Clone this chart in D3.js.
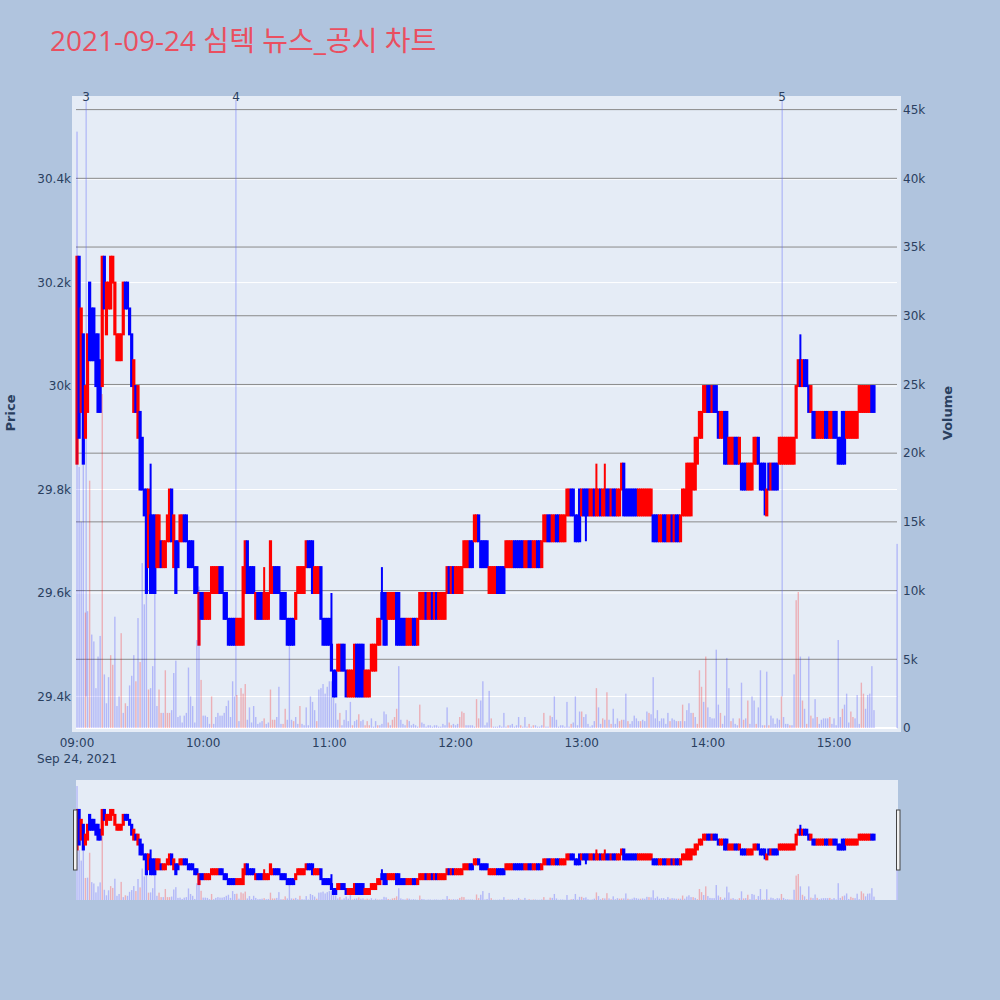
<!DOCTYPE html>
<html><head><meta charset="utf-8">
<script src="https://cdn.jsdelivr.net/npm/d3@7"></script>
<style>body{margin:0;background:#B0C4DE;} svg{display:block;font-family:"DejaVu Sans","Noto Sans CJK KR",sans-serif;}</style>
</head><body><svg id="chart" width="1000" height="1000"></svg>
<script>
const titleText = "2021-09-24 심텍 뉴스_공시 차트";
const sessionStart = "2021-09-24 09:00:00";
// one candle per minute from 09:00
const opens = [
29850,30250,29950,30100,29900,29950,30200,30150,30150,30100,
30100,30050,30000,30250,30100,30150,30150,30200,30100,30050,
30050,30050,30100,30200,30200,30150,30100,29950,30000,29900,
29950,29900,29800,29800,29650,29750,29750,29750,29650,29650,
29700,29650,29650,29700,29700,29800,29650,29700,29700,29700,
29700,29750,29750,29700,29700,29700,29650,29650,29500,29600,
29600,29550,29550,29550,29600,29600,29600,29600,29650,29650,
29600,29600,29550,29550,29550,29550,29500,29500,29500,29500,
29600,29700,29650,29650,29650,29550,29600,29600,29600,29550,
29550,29550,29600,29600,29650,29650,29650,29600,29600,29600,
29550,29550,29550,29550,29550,29600,29600,29600,29600,29650,
29700,29700,29700,29600,29600,29600,29650,29550,29550,29550,
29550,29500,29450,29450,29450,29450,29500,29500,29450,29400,
29400,29400,29400,29500,29500,29500,29500,29400,29400,29400,
29450,29450,29450,29500,29500,29600,29600,29600,29550,29550,
29550,29550,29600,29600,29550,29550,29550,29500,29500,29500,
29550,29550,29500,29550,29550,29550,29600,29550,29550,29600,
29550,29600,29550,29550,29550,29550,29600,29650,29600,29650,
29600,29600,29600,29600,29650,29650,29650,29700,29700,29700,
29700,29750,29700,29700,29700,29700,29600,29600,29600,29600,
29650,29650,29650,29650,29650,29650,29650,29650,29700,29700,
29700,29700,29700,29650,29650,29700,29700,29650,29650,29700,
29700,29650,29700,29700,29750,29750,29700,29700,29750,29750,
29700,29700,29700,29750,29750,29800,29800,29750,29750,29800,
29750,29800,29800,29800,29750,29750,29800,29750,29750,29800,
29750,29750,29800,29800,29750,29800,29800,29750,29750,29800,
29850,29800,29800,29800,29800,29800,29800,29750,29750,29750,
29750,29750,29750,29750,29750,29750,29750,29700,29700,29750,
29750,29700,29700,29750,29700,29750,29750,29700,29750,29750,
29750,29750,29750,29800,29800,29850,29900,29900,29950,29950,
30000,30000,29950,30000,30000,29950,29900,29900,29950,29950,
29850,29850,29850,29900,29900,29850,29850,29850,29850,29800,
29800,29800,29850,29850,29900,29850,29850,29850,29750,29850,
29800,29850,29850,29850,29850,29850,29850,29850,29850,29850,
29850,29850,29900,30000,30050,30000,30050,30050,30000,29950,
29950,29950,29900,29900,29900,29900,29950,29950,29900,29900,
29950,29950,29900,29900,29950,29950,29900,29900,29900,29900,
29900,29900,29950,29950,29950,29950,29950,29950,30000,30000];
const closes = [
30250,29900,30150,29850,30000,30100,30050,30050,30050,30000,
29950,29950,30250,30150,30200,30200,30250,30250,30200,30100,
30100,30100,30200,30150,30150,30100,30000,30050,29950,30000,
29800,29800,29750,29600,29800,29600,29600,29600,29750,29750,
29650,29700,29700,29750,29800,29700,29750,29600,29650,29750,
29750,29700,29700,29650,29650,29650,29600,29600,29600,29550,
29550,29600,29600,29600,29650,29650,29650,29650,29600,29600,
29550,29550,29500,29500,29500,29500,29550,29550,29550,29650,
29700,29600,29600,29600,29600,29600,29550,29550,29550,29600,
29600,29600,29700,29650,29600,29600,29600,29550,29550,29550,
29500,29500,29500,29500,29600,29650,29650,29650,29650,29700,
29650,29650,29600,29650,29650,29650,29550,29500,29500,29500,
29500,29450,29400,29400,29500,29500,29450,29450,29400,29450,
29450,29450,29500,29400,29400,29400,29400,29450,29450,29450,
29500,29500,29500,29550,29550,29550,29500,29500,29600,29600,
29600,29600,29500,29500,29500,29500,29500,29550,29550,29550,
29500,29500,29550,29600,29600,29600,29550,29600,29600,29550,
29600,29550,29600,29600,29600,29600,29650,29600,29650,29600,
29650,29650,29650,29650,29700,29700,29700,29650,29650,29750,
29750,29700,29650,29650,29650,29650,29650,29650,29650,29650,
29600,29600,29600,29600,29700,29700,29700,29700,29650,29650,
29650,29650,29650,29700,29700,29650,29650,29700,29700,29650,
29650,29700,29750,29750,29700,29700,29750,29750,29700,29700,
29750,29750,29750,29800,29800,29750,29750,29700,29700,29700,
29800,29750,29750,29750,29800,29800,29750,29800,29800,29750,
29800,29800,29750,29750,29800,29750,29750,29800,29800,29850,
29750,29750,29750,29750,29750,29750,29750,29800,29800,29800,
29800,29800,29800,29800,29700,29700,29700,29750,29750,29700,
29700,29750,29750,29700,29750,29700,29700,29750,29800,29800,
29850,29850,29850,29850,29900,29900,29950,29950,30000,30000,
29950,29950,30000,29950,29950,29900,29950,29950,29850,29850,
29900,29900,29900,29850,29850,29900,29800,29800,29800,29850,
29850,29850,29900,29900,29850,29800,29800,29800,29800,29800,
29850,29800,29800,29800,29900,29900,29900,29900,29900,29900,
29900,29900,30000,30050,30000,30050,30000,30000,29950,30000,
29900,29900,29950,29950,29950,29950,29900,29900,29950,29950,
29900,29900,29850,29850,29850,29850,29950,29950,29950,29950,
29950,29950,30000,30000,30000,30000,30000,30000,29950,29950];
// [minute, price] of wicks that reach beyond the body
const wickHighs = [[35,29850],[89,29650],[121,29600],[145,29650],[247,29850],[251,29850],[344,30100]];
const wickLows = [[242,29700],[327,29750]];
const volumes = [
43400,19000,15000,19500,8400,8500,18000,6800,6300,2900,
5200,6700,24300,3900,1800,3700,5300,4600,8100,1600,
2300,6900,1100,1800,1600,3100,3800,5300,3400,8000,
4800,12000,9000,9800,2800,2900,4500,9800,1600,2800,
1100,1100,4200,1100,1100,1300,4000,4900,800,900,
400,900,1100,4400,2300,1600,400,6400,10300,3500,
900,900,800,300,2300,300,800,1100,900,900,
1100,1600,2000,800,3400,2300,2400,500,2900,2500,
3200,600,1500,400,1600,800,300,400,500,700,
300,400,2800,600,600,800,3000,300,300,1400,
600,6600,600,500,800,300,1600,300,200,1500,
200,2300,1900,1300,500,2800,2900,3200,2500,3000,
3400,3400,3600,1800,600,1100,200,600,1300,500,
1900,200,500,600,1000,500,600,200,500,200,
700,100,500,200,200,300,1200,1000,400,200,
600,800,1400,4500,600,300,200,600,500,200,
300,200,100,1700,400,300,100,200,200,100,
200,200,100,100,300,200,1500,400,200,300,
200,300,800,1200,1100,200,200,200,200,100,
2100,700,2000,3400,200,400,2700,700,100,100,
100,200,100,1100,100,200,200,300,100,200,
800,200,100,800,100,300,100,200,200,100,
100,200,1100,100,100,900,800,2300,600,100,
200,200,100,1900,100,300,400,2300,200,1200,
1200,800,1000,300,100,200,500,2900,1500,300,
700,600,2600,600,300,1400,300,700,500,600,
600,2500,500,300,500,900,700,500,500,600,
500,1200,1100,1000,3700,700,1300,500,700,700,
300,1100,500,700,600,500,500,500,1700,500,
1300,1800,1100,1100,800,300,4200,3000,1900,5200,
1500,800,700,700,5700,1700,1100,300,900,5100,
2900,500,700,300,200,700,3300,600,700,2000,
300,2300,2000,300,1500,4200,200,200,4100,200,
900,700,300,700,600,2300,800,300,300,200,
200,3900,9300,9900,5200,2000,1400,300,5200,900,
700,2100,800,300,600,700,700,700,800,300,
700,200,6400,800,1400,1700,2500,400,1200,800,
700,2400,300,3300,2500,1400,2400,2500,4500,1300];
// minutes whose volume bar is drawn in red
const upVolumeMinutes = [4,6,12,16,17,21,23,28,30,34,39,40,42,43,44,59,64,76,78,79,80,89,92,93,94,98,99,103,106,114,125,131,134,137,138,139,143,148,150,151,152,157,163,177,178,182,183,184,190,191,197,205,211,215,217,222,225,235,240,247,250,252,254,258,259,262,268,272,282,286,288,293,295,296,297,299,306,311,315,317,319,323,327,329,335,339,342,343,345,347,349,352,358,364,368,369,373,374];
// closing auction
const auctionTime = "2021-09-24 15:30:00";
const auctionPrice = 29950;
const auctionVolume = 13400;
// news / disclosure markers
const newsLabels = ["3","4","5"];
const newsTimes = ["2021-09-24 09:04:20","2021-09-24 10:15:35","2021-09-24 14:35:20"];
const priceTicks = [29400,29600,29800,30000,30200,30400];
const volumeTicks = [0,5000,10000,15000,20000,25000,30000,35000,40000,45000];
const timeTicks = ["09:00","10:00","11:00","12:00","13:00","14:00","15:00"];

const parse = d3.timeParse("%Y-%m-%d %H:%M:%S");
const base = parse(sessionStart);
const wh = new Map(wickHighs), wl = new Map(wickLows), upSet = new Set(upVolumeMinutes);
const candles = opens.map((o,i)=>{
  const c = closes[i];
  return {t:d3.timeMinute.offset(base,i), o, c,
    h: wh.has(i)?wh.get(i):Math.max(o,c), l: wl.has(i)?wl.get(i):Math.min(o,c),
    v: volumes[i], up: upSet.has(i)};
});
candles.push({t:parse(auctionTime), o:auctionPrice, c:auctionPrice, h:auctionPrice, l:auctionPrice, v:auctionVolume, up:false});

const svg = d3.select("#chart");
const TXT = "#2a3f5f";
svg.append("rect").attr("width",1000).attr("height",1000).attr("fill","#B0C4DE");
svg.append("text").attr("x",50).attr("y",51).attr("font-size",28).attr("fill","#EA4F60")
  .attr("font-family","'Open Sans','Noto Sans CJK KR',sans-serif").text(titleText);

const M = {l:76, r:897, t:100, b:728};
svg.append("rect").attr("x",72).attr("y",96).attr("width",829).attr("height",636).attr("fill","#E5ECF6");

const x = d3.scaleTime().domain([d3.timeSecond.offset(base,-29), d3.timeSecond.offset(base,389*60+57)]).range([M.l, M.r]);
const y = d3.scaleLinear().domain([29339,30553]).range([M.b, M.t]);
const yv = d3.scaleLinear().domain([0,45700]).range([M.b, M.t]);

svg.append("defs").call(d=>{
  d.append("clipPath").attr("id","cm").append("rect").attr("x",72).attr("y",96).attr("width",829).attr("height",636);
  d.append("clipPath").attr("id","cs").append("rect").attr("x",76).attr("y",780).attr("width",822).attr("height",120);
});

// grids
const grid = svg.append("g");
grid.selectAll(".pg").data(priceTicks).join("line").attr("x1",M.l).attr("x2",M.r)
  .attr("y1",d=>y(d)).attr("y2",d=>y(d)).attr("stroke","#fff").attr("stroke-width",1);
grid.selectAll(".vg").data(volumeTicks.filter(d=>d>0)).join("line").attr("x1",M.l).attr("x2",M.r)
  .attr("y1",d=>yv(d)).attr("y2",d=>yv(d)).attr("stroke","#8a8a8a").attr("stroke-width",1);
grid.append("line").attr("x1",M.l).attr("x2",M.r).attr("y1",yv(0)).attr("y2",yv(0)).attr("stroke","#fff").attr("stroke-width",2);

// news lines
const newsG = svg.append("g");
newsTimes.forEach((t,i)=>{
  const xx = x(parse(t));
  newsG.append("line").attr("x1",xx).attr("x2",xx).attr("y1",y(29400)).attr("y2",M.t)
    .attr("stroke","rgba(99,110,250,0.5)").attr("stroke-width",1);
  newsG.append("text").attr("x",xx).attr("y",100.5).attr("text-anchor","middle").attr("font-size",12).attr("fill",TXT).text(newsLabels[i]);
});

function drawLayer(g, xs, ys, yvs){
  const bw = 1.2;
  const cg = g.append("g");
  candles.forEach(d=>{
    const col = d.c > d.o ? "#FF0000" : "#0000FF";
    const cx = xs(d.t);
    if (d.h > Math.max(d.o,d.c) || d.l < Math.min(d.o,d.c))
      cg.append("line").attr("x1",cx).attr("x2",cx).attr("y1",ys(d.h)).attr("y2",ys(d.l)).attr("stroke",col).attr("stroke-width",2);
    const top = ys(Math.max(d.o,d.c)), bot = ys(Math.min(d.o,d.c));
    cg.append("rect").attr("x",cx-bw/2).attr("y",top).attr("width",bw).attr("height",Math.max(0,bot-top))
      .attr("fill",col).attr("fill-opacity",0.5).attr("stroke",col).attr("stroke-width",2);
  });
  const vg = g.append("g");
  vg.selectAll("rect").data(candles).join("rect")
    .attr("x",d=>xs(d.t)-0.7).attr("width",1.4)
    .attr("y",d=>yvs(d.v)).attr("height",d=>yvs(0)-yvs(d.v))
    .attr("fill",d=>d.up?"rgba(255,0,0,0.26)":"rgba(0,0,255,0.22)");
}
drawLayer(svg.append("g").attr("clip-path","url(#cm)"), x, y, yv);

// axes labels
const fmtK = d3.format("~s");
svg.append("g").selectAll("text").data(priceTicks).join("text")
  .attr("x",71).attr("y",d=>y(d)+4.3).attr("text-anchor","end").attr("font-size",12).attr("fill",TXT).text(d=>fmtK(d));
svg.append("g").selectAll("text").data(volumeTicks).join("text")
  .attr("x",903).attr("y",d=>yv(d)+4.3).attr("text-anchor","start").attr("font-size",12).attr("fill",TXT).text(d=>fmtK(d));
const tp = d3.timeParse("%Y-%m-%d %H:%M");
const tf = d3.timeFormat("%H:%M"), df = d3.timeFormat("%b %-d, %Y");
svg.append("g").selectAll("text").data(timeTicks).join("text")
  .attr("x",d=>x(tp("2021-09-24 "+d))).attr("y",746.5).attr("text-anchor","middle").attr("font-size",12).attr("fill",TXT)
  .text(d=>tf(tp("2021-09-24 "+d)));
svg.append("text").attr("x",x(base)).attr("y",762.5).attr("text-anchor","middle").attr("font-size",12).attr("fill",TXT).text(df(base));
svg.append("text").attr("transform","translate(15,413) rotate(-90)").attr("text-anchor","middle").attr("font-size",13).attr("font-weight","bold").attr("fill",TXT).text("Price");
svg.append("text").attr("transform","translate(952,413) rotate(-90)").attr("text-anchor","middle").attr("font-size",13).attr("font-weight","bold").attr("fill",TXT).text("Volume");

// range slider
svg.append("rect").attr("x",76).attr("y",780).attr("width",822).attr("height",120).attr("fill","#E5ECF6");
const sx = x.copy().range([76,897]);
const sy = y.copy().range([900,780]);
const syv = yv.copy().range([900,780]);
drawLayer(svg.append("g").attr("clip-path","url(#cs)"), sx, sy, syv);
[73.5, 896.5].forEach(hx=>{
  svg.append("rect").attr("x",hx).attr("y",810).attr("width",3.5).attr("height",60).attr("fill","#f2f2f2").attr("stroke","#444").attr("stroke-width",1);
});
</script></body></html>
